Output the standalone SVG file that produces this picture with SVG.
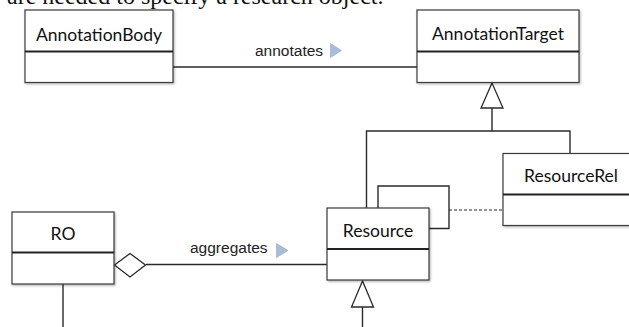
<svg xmlns="http://www.w3.org/2000/svg" width="629" height="327" viewBox="0 0 629 327">
  <style>
    .box { fill: #ffffff; stroke: #3a3a3a; stroke-width: 1.2; }
    .div { stroke: #222; stroke-width: 1.8; }
    .name { font-family: Lato, "Open Sans", sans-serif; font-size: 17.5px; fill: #111; text-anchor: middle; }
    .lbl { font-family: "Liberation Sans", Arial, sans-serif; font-size: 15.5px; fill: #222; }
    .ln { fill: none; stroke: #2a2a2a; stroke-width: 1.4; }
    .dash { fill: none; stroke: #2a2a2a; stroke-width: 1.2; stroke-dasharray: 3 2; }
    .gen { fill: #ffffff; stroke: #2a2a2a; stroke-width: 1.3; stroke-linejoin: miter; }
    .dir { fill: #a9bcd8; stroke: #8ea6c8; stroke-width: 0.6; }
    .cap { font-family: "Liberation Serif", "Times New Roman", serif; font-size: 24px; fill: #111; }
  </style>
  <defs>
    <filter id="sh" x="-5%" y="-5%" width="115%" height="120%">
      <feDropShadow dx="1" dy="1.2" stdDeviation="0.8" flood-color="#000" flood-opacity="0.3"/>
    </filter>
  </defs>
  <rect width="629" height="327" fill="#ffffff"/>
  <text class="cap" x="7" y="4">are needed to specify a research object.</text>

  <g id="connectors">
    <path class="ln" d="M173,67 H417"/>
    <path class="ln" d="M146,264.5 H327"/>
    <path class="ln" d="M492,108 V131 M366.5,208 V131 H570 V153"/>
    <path class="ln" d="M378,208 V186 H449 V228.5 H429"/>
    <path class="dash" d="M449,210 H503"/>
    <path class="ln" d="M63,284 V327"/>
    <path class="ln" d="M362.5,307 V327"/>
    <polygon class="gen" points="492,83 481,108 503,108"/>
    <polygon class="gen" points="362.5,281 351.5,307 373.5,307"/>
    <polygon class="gen" points="114.5,265 130,253.5 145.5,265 130,277"/>
    <text class="lbl" x="255" y="56">annotates</text>
    <polygon class="dir" points="330.5,43.5 341.5,50.5 330.5,57.5"/>
    <text class="lbl" x="190" y="253">aggregates</text>
    <polygon class="dir" points="276.5,243.5 288,250.5 276.5,257.5"/>
  </g>

  <g id="AnnotationBody">
    <rect class="box" x="25" y="10" width="148" height="72.5" filter="url(#sh)"/>
    <line class="div" x1="25" y1="51.5" x2="173" y2="51.5"/>
    <text class="name" x="99" y="40.5">AnnotationBody</text>
  </g>

  <g id="AnnotationTarget">
    <rect class="box" x="417" y="10" width="162" height="72.5" filter="url(#sh)"/>
    <line class="div" x1="417" y1="51.5" x2="579" y2="51.5"/>
    <text class="name" x="498" y="40">AnnotationTarget</text>
  </g>

  <g id="ResourceRel">
    <rect class="box" x="503" y="153.5" width="134" height="72" filter="url(#sh)"/>
    <line class="div" x1="503" y1="194.5" x2="637" y2="194.5"/>
    <text class="name" x="571" y="182">ResourceRel</text>
  </g>

  <g id="RO">
    <rect class="box" x="12" y="212" width="102" height="72" filter="url(#sh)"/>
    <line class="div" x1="12" y1="252.5" x2="114" y2="252.5"/>
    <text class="name" x="63" y="240">RO</text>
  </g>

  <g id="Resource">
    <rect class="box" x="327" y="208" width="102" height="72" filter="url(#sh)"/>
    <line class="div" x1="327" y1="249" x2="429" y2="249"/>
    <text class="name" x="378" y="236.5">Resource</text>
  </g>
</svg>
